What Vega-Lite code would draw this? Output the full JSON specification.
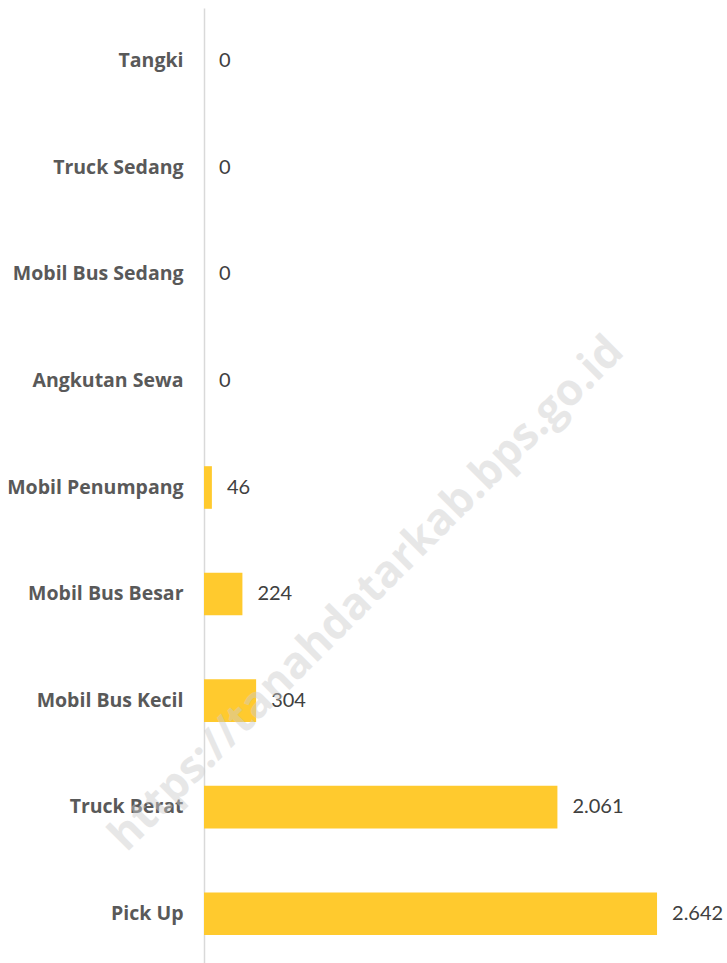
{
  "$schema": "https://vega.github.io/schema/vega-lite/v6.json",
  "autosize": {"type": "none"},
  "padding": {"left": 204, "top": 8, "right": 0, "bottom": 0},
  "width": 523,
  "height": 959,
  "background": "white",
  "config": {
    "view": {"stroke": null},
    "locale": {"number": {"decimal": ",", "thousands": ".", "grouping": [3], "currency": ["Rp", ""]}}
  },
  "datasets": {
    "main": [
      {"cat": "Tangki", "value": 0},
      {"cat": "Truck Sedang", "value": 0},
      {"cat": "Mobil Bus Sedang", "value": 0},
      {"cat": "Angkutan Sewa", "value": 0},
      {"cat": "Mobil Penumpang", "value": 46},
      {"cat": "Mobil Bus Besar", "value": 224},
      {"cat": "Mobil Bus Kecil", "value": 304},
      {"cat": "Truck Berat", "value": 2061},
      {"cat": "Pick Up", "value": 2642}
    ],
    "wm": [
      {"cat": "Mobil Bus Besar", "value": 950, "text": "https://tanahdatarkab.bps.go.id"}
    ]
  },
  "layer": [
    {
      "data": {"name": "main"},
      "mark": {"type": "bar", "color": "#FFCA2E"},
      "encoding": {
        "y": {
          "field": "cat", "type": "nominal",
          "sort": ["Tangki", "Truck Sedang", "Mobil Bus Sedang", "Angkutan Sewa", "Mobil Penumpang", "Mobil Bus Besar", "Mobil Bus Kecil", "Truck Berat", "Pick Up"],
          "scale": {"paddingInner": 0.6, "paddingOuter": 0.3},
          "axis": {
            "title": null, "ticks": false, "domain": true, "domainColor": "#d9d9d9", "domainWidth": 1.5,
            "labelFont": "Open Sans", "labelFontWeight": "bold", "labelFontSize": 19.5, "labelColor": "#595959",
            "labelPadding": 21, "labelLimit": 300
          }
        },
        "x": {
          "field": "value", "type": "quantitative",
          "scale": {"domain": [0, 3050], "nice": false},
          "axis": null
        }
      }
    },
    {
      "data": {"name": "main"},
      "mark": {"type": "text", "align": "left", "baseline": "middle", "dx": 15, "font": "Lato", "fontSize": 20, "color": "#404040"},
      "encoding": {
        "y": {"field": "cat", "type": "nominal", "sort": ["Tangki", "Truck Sedang", "Mobil Bus Sedang", "Angkutan Sewa", "Mobil Penumpang", "Mobil Bus Besar", "Mobil Bus Kecil", "Truck Berat", "Pick Up"]},
        "x": {"field": "value", "type": "quantitative"},
        "text": {"field": "value", "type": "quantitative", "format": ",d"}
      }
    },
    {
      "data": {"name": "wm"},
      "mark": {"type": "text", "align": "center", "baseline": "middle", "angle": 315, "font": "Open Sans", "fontWeight": "bold", "fontSize": 44, "color": "#cccccc", "opacity": 0.45},
      "encoding": {
        "y": {"field": "cat", "type": "nominal", "sort": ["Tangki", "Truck Sedang", "Mobil Bus Sedang", "Angkutan Sewa", "Mobil Penumpang", "Mobil Bus Besar", "Mobil Bus Kecil", "Truck Berat", "Pick Up"]},
        "x": {"field": "value", "type": "quantitative"},
        "text": {"field": "text", "type": "nominal"}
      }
    }
  ]
}
